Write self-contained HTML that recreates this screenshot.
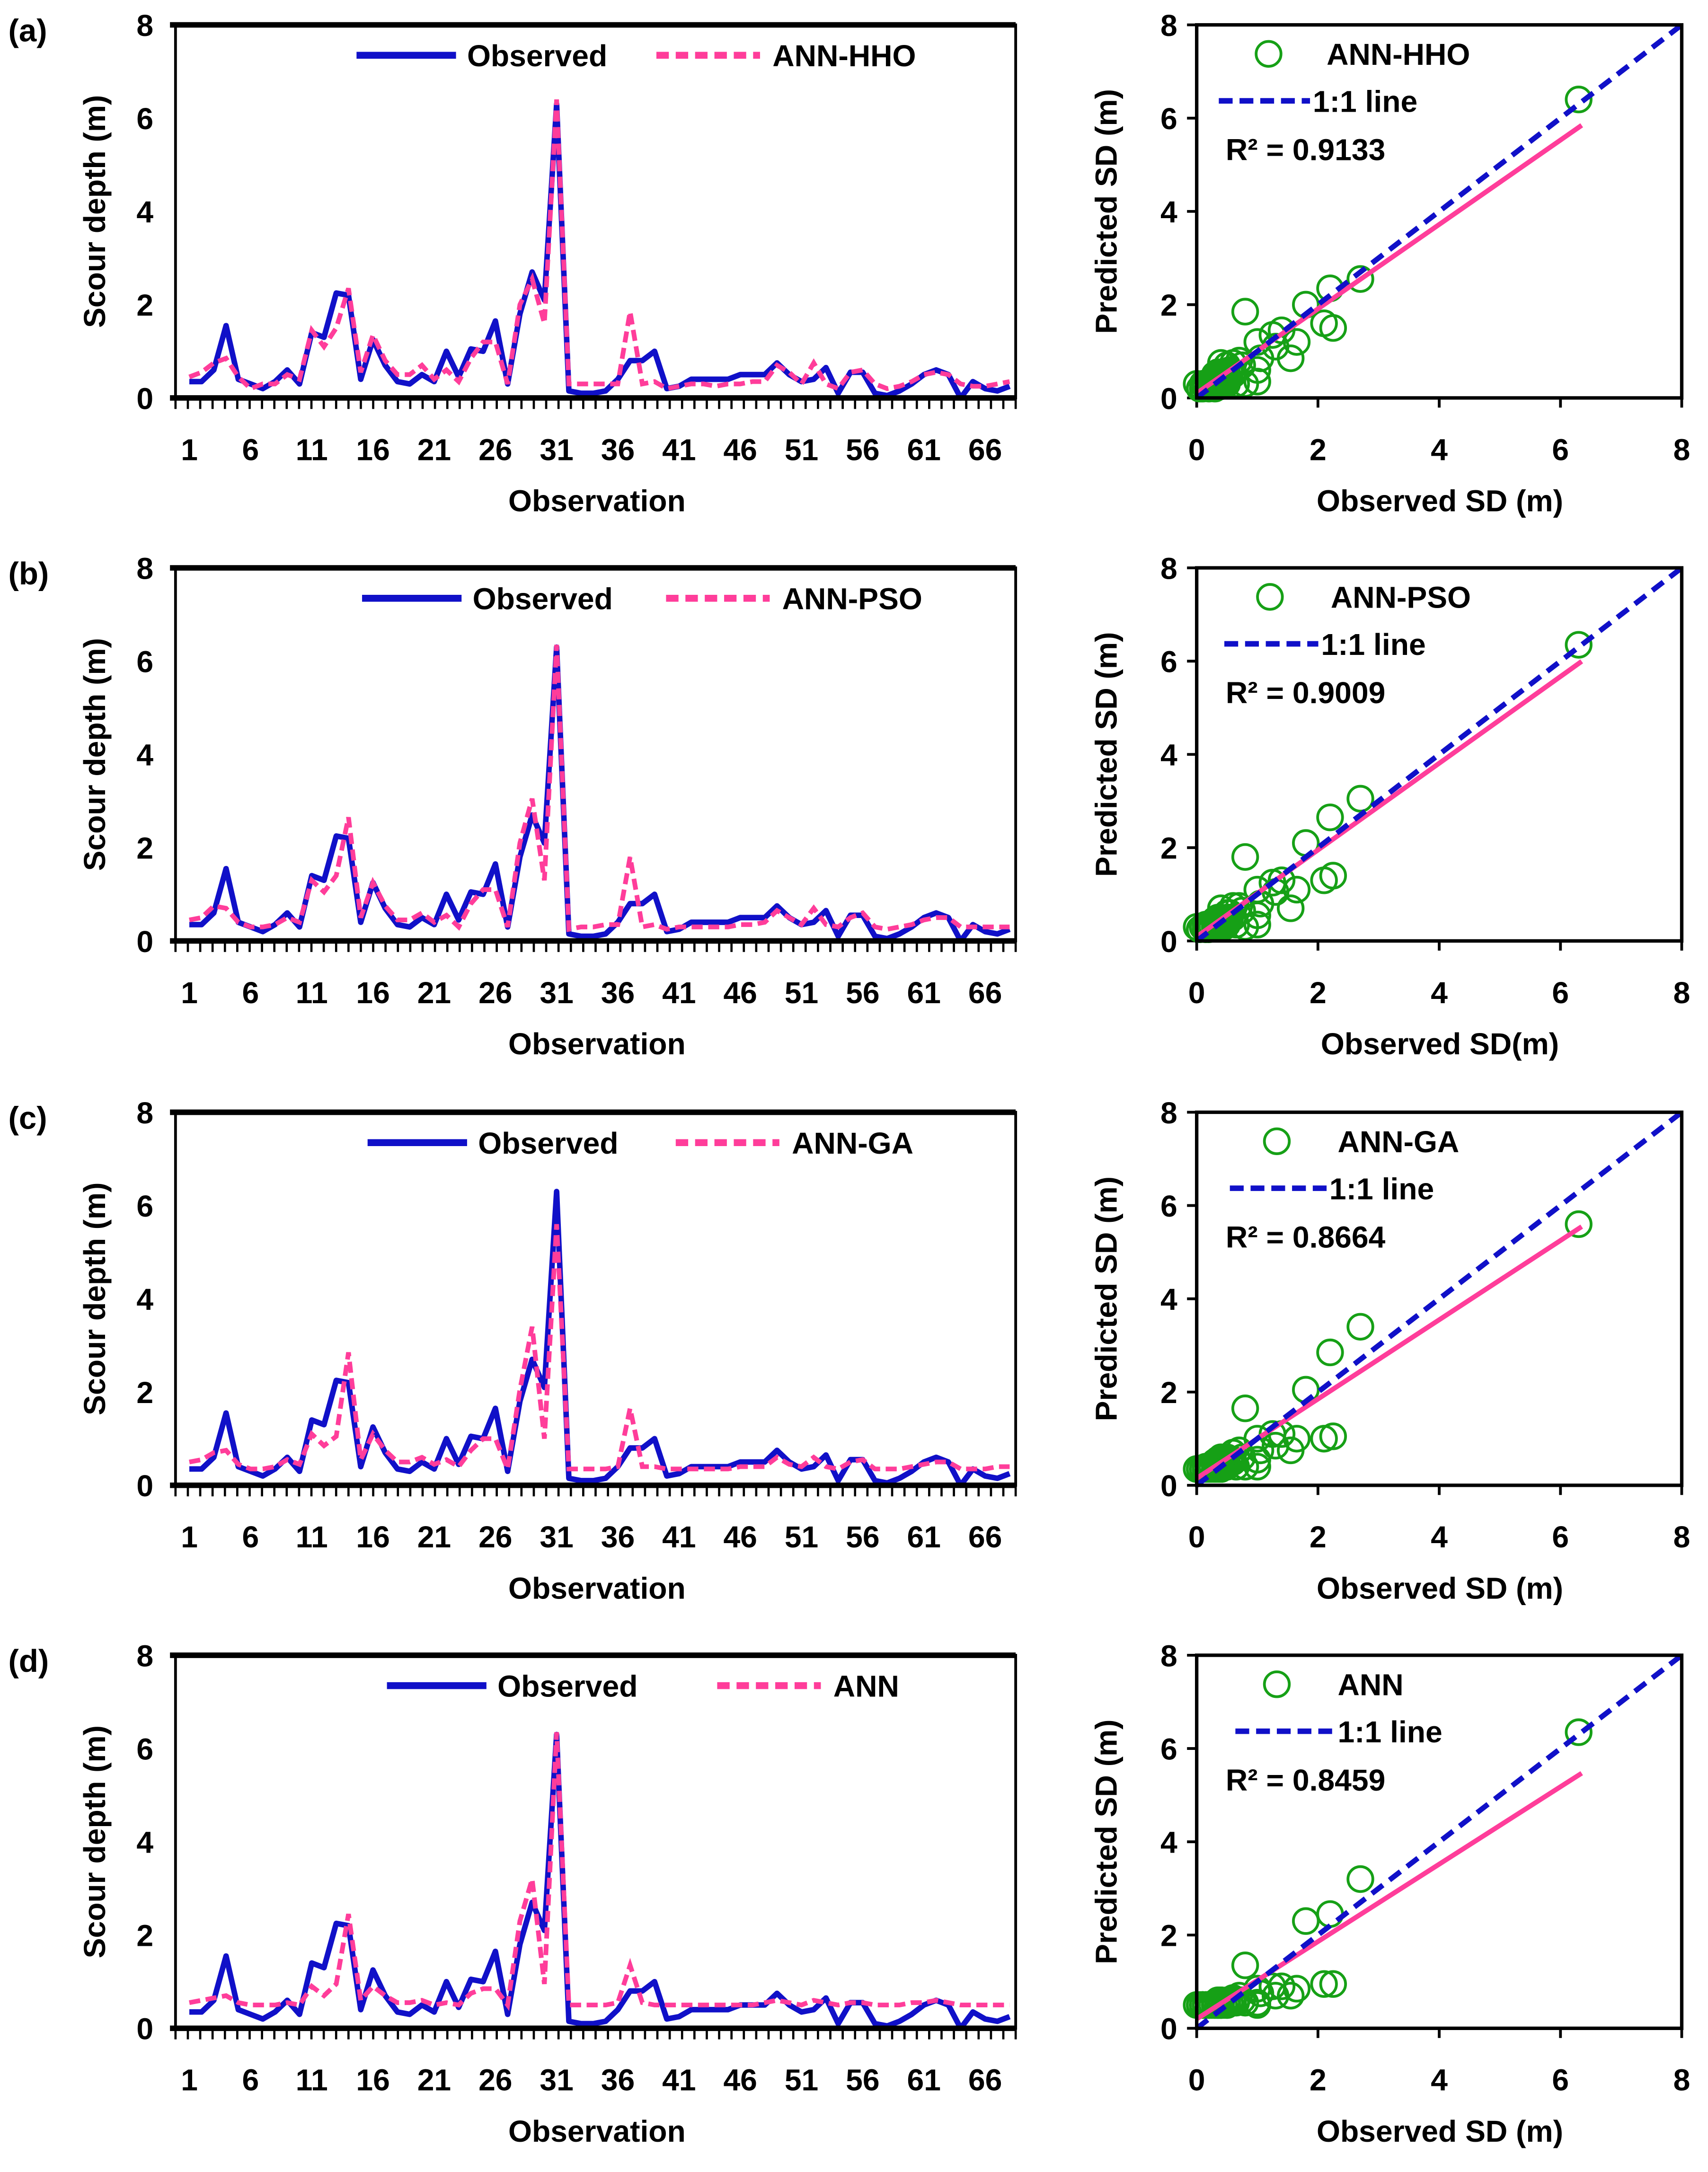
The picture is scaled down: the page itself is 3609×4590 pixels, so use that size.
<!DOCTYPE html>
<html><head><meta charset="utf-8"><style>
html,body{margin:0;padding:0;background:#fff;}
svg{display:block;}
text{font-family:"Liberation Sans",sans-serif;font-weight:bold;fill:#000;}
</style></head><body>
<svg id="fig" width="3609" height="4590" viewBox="0 0 1236 1572" xmlns="http://www.w3.org/2000/svg"></svg>
<script>
const observed=[0.35,0.35,0.6,1.55,0.4,0.3,0.2,0.35,0.6,0.3,1.4,1.3,2.25,2.2,0.4,1.25,0.7,0.35,0.3,0.5,0.35,1.0,0.45,1.05,1.0,1.65,0.3,1.8,2.7,2.1,6.3,0.15,0.1,0.1,0.15,0.4,0.8,0.8,1.0,0.2,0.25,0.4,0.4,0.4,0.4,0.5,0.5,0.5,0.75,0.5,0.35,0.4,0.65,0.1,0.55,0.55,0.1,0.05,0.15,0.3,0.5,0.6,0.5,0.0,0.35,0.2,0.15,0.25];
const predHHO=[0.45,0.55,0.75,0.85,0.45,0.2,0.3,0.3,0.5,0.4,1.45,1.1,1.5,2.35,0.55,1.35,0.8,0.5,0.5,0.7,0.4,0.6,0.35,0.85,1.2,1.2,0.3,2.0,2.55,1.6,6.4,0.3,0.3,0.3,0.3,0.3,1.85,0.3,0.35,0.2,0.25,0.3,0.3,0.25,0.3,0.3,0.35,0.35,0.7,0.55,0.3,0.75,0.3,0.2,0.55,0.6,0.3,0.2,0.25,0.35,0.5,0.55,0.5,0.3,0.25,0.25,0.3,0.35];
const predPSO=[0.45,0.5,0.75,0.7,0.4,0.3,0.3,0.35,0.5,0.4,1.3,1.05,1.4,2.65,0.5,1.25,0.75,0.45,0.45,0.6,0.4,0.55,0.3,0.8,1.1,1.1,0.3,2.1,3.05,1.3,6.35,0.25,0.3,0.3,0.35,0.35,1.8,0.3,0.35,0.25,0.3,0.3,0.3,0.3,0.3,0.35,0.35,0.4,0.65,0.5,0.35,0.7,0.35,0.3,0.5,0.6,0.3,0.25,0.3,0.35,0.45,0.5,0.5,0.3,0.3,0.3,0.3,0.3];
const predGA=[0.5,0.55,0.7,0.75,0.45,0.35,0.35,0.4,0.55,0.45,1.1,0.85,1.05,2.85,0.55,1.1,0.75,0.5,0.5,0.6,0.45,0.55,0.4,0.75,1.0,1.0,0.35,2.05,3.4,1.0,5.6,0.35,0.35,0.35,0.35,0.4,1.65,0.4,0.4,0.35,0.35,0.35,0.35,0.35,0.35,0.4,0.4,0.4,0.6,0.45,0.4,0.6,0.4,0.35,0.5,0.55,0.35,0.35,0.35,0.4,0.45,0.5,0.5,0.35,0.35,0.35,0.4,0.4];
const predANN=[0.55,0.6,0.65,0.7,0.55,0.5,0.5,0.5,0.55,0.5,0.9,0.7,0.95,2.45,0.6,0.9,0.7,0.55,0.55,0.6,0.5,0.55,0.5,0.75,0.85,0.85,0.5,2.3,3.2,0.95,6.35,0.5,0.5,0.5,0.5,0.55,1.35,0.55,0.5,0.5,0.5,0.5,0.5,0.5,0.5,0.5,0.5,0.55,0.6,0.55,0.5,0.6,0.55,0.5,0.55,0.55,0.5,0.5,0.5,0.55,0.55,0.6,0.55,0.5,0.5,0.5,0.5,0.5];
const panelLetters=["(a)","(b)","(c)","(d)"];
const modelNames=["ANN-HHO","ANN-PSO","ANN-GA","ANN"];
const r2Labels=["R² = 0.9133","R² = 0.9009","R² = 0.8664","R² = 0.8459"];
const fitSlopes=[0.905,0.93,0.85,0.83];
const fitIntercepts=[0.1,0.09,0.15,0.2];
const xTickLabels=[1,6,11,16,21,26,31,36,41,46,51,56,61,66];
const yTickLabels=[0,2,4,6,8];
const scatterXLabels=["Observed SD (m)","Observed SD(m)","Observed SD (m)","Observed SD (m)"];
const predictions=[predHHO,predPSO,predGA,predANN];

const NS="http://www.w3.org/2000/svg";
const svg=document.getElementById('fig');
function mk(tag,attrs,parent,txt){const e=document.createElementNS(NS,tag);for(const k in attrs)e.setAttribute(k,attrs[k]);if(txt!==undefined)e.textContent=txt;(parent||svg).appendChild(e);return e;}
const BLUE="#1010c8",PINK="#ff3d9a",GREEN="#16a016";
const rowOffsets=[0,393,787,1180];
const legendShift=[[0,0],[4,7],[8,14],[22,44]];

predictions.forEach((pred,p)=>{
  const oy=rowOffsets[p];
  const g=mk('g',{});
  
  
  const L=127,R=735,T=18+oy,B=288+oy;
  const n=observed.length,step=8.86;
  const xs=i=>137+i*step;
  const ys=v=>B-(v/8)*(B-T);
  const lt=mk('text',{x:6,y:T+12,'font-size':23},g,panelLetters[p]);
  
  yTickLabels.forEach(v=>{
    const t=mk('text',{x:L-16,y:ys(v)+8,'font-size':22,'text-anchor':'end'},g,v);
    
  });
  const yt=mk('text',{x:0,y:0,'font-size':22,'text-anchor':'middle',transform:`translate(76,${(T+B)/2}) rotate(-90)`},g,'Scour depth (m)');
  
  for(let i=0;i<=n;i++){const xx=L+i*(R-L)/n;const tk=mk('line',{x1:xx,x2:xx,y1:B,y2:B+8,stroke:'#000','stroke-width':1.6},g);
    }
  xTickLabels.forEach(c=>{
    const t=mk('text',{x:xs(c-1),y:B+45,'font-size':22,'text-anchor':'middle'},g,c);
    
  });
  const xt=mk('text',{x:432,y:B+82,'font-size':22,'text-anchor':'middle'},g,'Observation');
  
  const ob=mk('polyline',{points:observed.map((v,i)=>xs(i)+','+ys(v)).join(' '),fill:'none',stroke:BLUE,'stroke-width':4,'stroke-linejoin':'round'},g);
  
  const pr=mk('polyline',{points:pred.map((v,i)=>xs(i)+','+ys(v)).join(' '),fill:'none',stroke:PINK,'stroke-width':3.4,'stroke-dasharray':'8 4'},g);
  
  const fr=mk('rect',{x:L,y:T,width:R-L,height:B-T,fill:'none',stroke:'#000','stroke-width':2},g);
  
  mk('line',{x1:L-4,x2:R,y1:T,y2:T,stroke:'#000','stroke-width':4},g);
  mk('line',{x1:L-4,x2:R,y1:B,y2:B,stroke:'#000','stroke-width':4},g);
  const [d1,d2]=legendShift[p];
  const ll=mk('line',{x1:258+d1,x2:330+d1,y1:T+22,y2:T+22,stroke:BLUE,'stroke-width':5},g);
  
  const lo=mk('text',{x:338+d1,y:T+30,'font-size':22},g,'Observed');
  
  const lp=mk('line',{x1:475+d2,x2:550+d2,y1:T+22,y2:T+22,stroke:PINK,'stroke-width':5,'stroke-dasharray':'9 5'},g);
  
  const lm=mk('text',{x:559+d2,y:T+30,'font-size':22},g,modelNames[p]);
  

  const SL=866,SR=1217;
  const sx=v=>SL+(v/8)*(SR-SL);
  yTickLabels.forEach(v=>{
    const t=mk('text',{x:SL-14,y:ys(v)+8,'font-size':22,'text-anchor':'end'},g,v);
    
    const t2=mk('text',{x:sx(v),y:B+45,'font-size':22,'text-anchor':'middle'},g,v);
    
    mk('line',{x1:SL-7,x2:SL,y1:ys(v),y2:ys(v),stroke:'#000','stroke-width':2},g);
    mk('line',{x1:sx(v),x2:sx(v),y1:B,y2:B+7,stroke:'#000','stroke-width':2},g);
  });
  const syt=mk('text',{x:0,y:0,'font-size':22,'text-anchor':'middle',transform:`translate(808,${(T+B)/2}) rotate(-90)`},g,'Predicted SD (m)');
  
  const sxt=mk('text',{x:1042,y:B+82,'font-size':22,'text-anchor':'middle'},g,scatterXLabels[p]);
  
  observed.forEach((v,i)=>{
    const c=mk('circle',{cx:sx(v),cy:ys(pred[i]),r:9,fill:'none',stroke:GREEN,'stroke-width':2},g);
    
  });
  const x1=0,x2=6.35;
  const fl=mk('line',{x1:sx(x1),y1:ys(fitIntercepts[p]),x2:sx(x2),y2:ys(fitIntercepts[p]+fitSlopes[p]*x2),stroke:PINK,'stroke-width':3.5},g);
  
  const one=mk('line',{x1:sx(0),y1:ys(0),x2:sx(8),y2:ys(8),stroke:BLUE,'stroke-width':3.8,'stroke-dasharray':'10 6'},g);
  
  const sf=mk('rect',{x:SL,y:T,width:SR-SL,height:B-T,fill:'none',stroke:'#000','stroke-width':2.5},g);
  
  const lc=mk('circle',{cx:918+(p>1?6:p),cy:T+21,r:9,fill:'none',stroke:GREEN,'stroke-width':2},g);
  
  const ln=mk('text',{x:960+(p>1?8:p*3),y:T+29,'font-size':22},g,modelNames[p]);
  
  const ld=mk('line',{x1:882+p*4,x2:948+p*6,y1:T+55,y2:T+55,stroke:BLUE,'stroke-width':4,'stroke-dasharray':'10 5'},g);
  
  const lt2=mk('text',{x:950+p*6,y:T+63,'font-size':22},g,'1:1 line');
  
  const r2=mk('text',{x:887,y:T+98,'font-size':22},g,r2Labels[p]);
  
});
</script>
</body></html>
